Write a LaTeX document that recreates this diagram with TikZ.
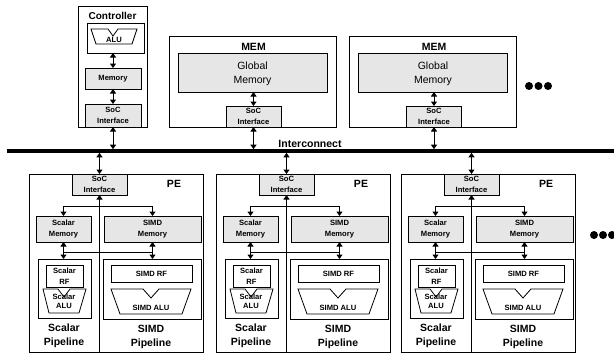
\documentclass[tikz,border=0pt]{standalone}
\usepackage{fontspec}
\setmainfont{Liberation Sans}
\usetikzlibrary{arrows.meta}
\definecolor{boxgray}{HTML}{E6E6E6}
\begin{document}
\begin{tikzpicture}[x=1pt,y=-1pt,
  outerbox/.style={draw, line width=1pt, inner sep=0pt, outer sep=0pt},
  gbox/.style={draw, fill=boxgray, line width=0.8pt, inner sep=0pt, outer sep=0pt, align=center},
  wbox/.style={draw, fill=white, line width=0.8pt, inner sep=0pt, outer sep=0pt, align=center},
  smallfont/.style={font=\fontsize{7.6}{10.5}\selectfont\bfseries},
  tightfont/.style={font=\fontsize{7.6}{8.6}\selectfont\bfseries},
  bigfont/.style={font=\fontsize{10.5}{13.5}\selectfont\bfseries},
  ctrlfont/.style={font=\fontsize{10}{12}\selectfont\bfseries},
  regfont/.style={font=\fontsize{10.5}{13.5}\selectfont},
  lbl/.style={inner sep=0pt, outer sep=0pt, align=center},
  connline/.style={line width=1pt},
  arr/.style={connline, -{Triangle[width=6pt,length=4.5pt]}},
  dblarr/.style={connline, {Triangle[width=6pt,length=4.5pt]}-{Triangle[width=6pt,length=4.5pt]}},
  alu/.style={draw, fill=white, line width=0.8pt, line join=miter},
  dot/.style={circle, fill=black, inner sep=0pt, minimum size=8pt}
]
\useasboundingbox (0,0) rectangle (614,356);

% interconnect
\coordinate (busL) at (7,151);
\coordinate (busR) at (620,151);
\coordinate (busT) at (7,149.2);
\coordinate (busB) at (7,152.8);
\draw[line width=3.6pt] (busL) -- (busR);
\node[bigfont,lbl] (ic) at (310,144) {Interconnect};

% controller
\node[outerbox, minimum width=69pt, minimum height=121pt] (ctrl) at (112.5,66.5) {};
\node[ctrlfont,lbl] (ctrlt) at (112.5,15.5) {Controller};
\node[wbox, minimum width=57pt, minimum height=30pt] (ctrlalubox) at (115.5,38) {};
\draw[alu] (91,29) -- (108,29) -- (113,36) -- (118,29) -- (137,29) -- (132,44) -- (96,44) -- cycle;
\node[smallfont,lbl] (ctrlalut) at (114,39.5) {ALU};
\node[gbox, smallfont, minimum width=56pt, minimum height=21pt] (ctrlmem) at (113,78.5) {Memory};
\node[gbox, smallfont, minimum width=56pt, minimum height=23pt] (ctrlsoc) at (113,115.5) {SoC\\Interface};
\draw[dblarr] (ctrlmem.north) -- (ctrlmem.north |- ctrlalubox.south);
\draw[dblarr] (ctrlmem.south) -- (ctrlsoc.north);
\draw[dblarr] (ctrlsoc.south) -- (ctrlsoc.south |- busT);

% memories
\foreach \j/\X in {1/252.5,2/433}{
  \node[outerbox, minimum width=167pt, minimum height=91pt] (mem\j) at (\X,81.5) {};
  \node[bigfont,lbl] (memt\j) at (\X+1,47) {MEM};
  \node[gbox, minimum width=149pt, minimum height=39pt] (gmem\j) at (\X,72.5) {};
  \node[regfont,lbl] (gmemt\j) at (\X,74) {Global\\Memory};
  \node[gbox, smallfont, minimum width=55pt, minimum height=21pt] (msoc\j) at (\X+1,116.5) {SoC\\Interface};
  \draw[dblarr] (msoc\j.north) -- (msoc\j.north |- gmem\j.south);
  \draw[dblarr] (msoc\j.south) -- (msoc\j.south |- busT);
}

% dots
\node[dot] (td1) at (529,86) {};
\node[dot] (td2) at (538.5,86) {};
\node[dot] (td3) at (548,86) {};
\node[dot] (rd1) at (594,235) {};
\node[dot] (rd2) at (603,235) {};
\node[dot] (rd3) at (612,235) {};

% processing elements
\foreach \i/\L in {1/29,2/216,3/401}{
  \node[outerbox, minimum width=174pt, minimum height=178pt] (pe\i) at (\L+87,263) {};
  \node[bigfont,lbl] (pet\i) at (\L+145,184) {PE};
  \node[gbox,smallfont, minimum width=55pt, minimum height=21pt] (soc\i) at (\L+70.5,184.5) {SoC\\Interface};
  \draw[dblarr] (soc\i.north) -- (soc\i.north |- busB);
  \node[gbox,smallfont,minimum width=55pt,minimum height=26pt] (smem\i) at (\L+34.5,229) {Scalar\\Memory};
  \node[gbox,smallfont,minimum width=97pt,minimum height=26pt] (vmem\i) at (\L+123.5,229) {SIMD\\Memory};
  \coordinate (pebot\i) at (\L+70.5,352);
  \draw[arr] (pebot\i) -- (soc\i.south);
  \coordinate (junc\i) at (\L+70.5,206);
  \draw[arr] (junc\i) -| (smem\i.north);
  \draw[arr] (junc\i) -| (vmem\i.north);
  \node[wbox, minimum width=53pt, minimum height=59pt] (spipe\i) at (\L+35.5,288.5) {};
  \node[wbox, minimum width=98pt, minimum height=60pt] (vpipe\i) at (\L+123,289) {};
  \draw[dblarr] (smem\i.south) -- (smem\i.south |- spipe\i.north);
  \draw[dblarr] (vmem\i.south) -- (vmem\i.south |- vpipe\i.north);
  \coordinate (hl\i) at (\L+34.5,252);
  \coordinate (hr\i) at (\L+123.5,252);
  \draw[connline] (hl\i) -- (hr\i);
  \node[wbox,smallfont,minimum width=37pt,minimum height=22pt] (srf\i) at (\L+35.5,276) {Scalar\\RF};
  \node[wbox,smallfont,minimum width=81pt,minimum height=17pt] (vrf\i) at (\L+122.5,273.5) {SIMD RF};
  \draw[alu] (\L+14,289) -- (\L+29,289) -- (\L+35,297) -- (\L+41,289) -- (\L+57,289) -- (\L+50,313) -- (\L+20,313) -- cycle;
  \node[tightfont,lbl] (salu\i) at (\L+35,301) {Scalar\\ALU};
  \draw[alu] (\L+82,289) -- (\L+114,289) -- (\L+122,298) -- (\L+130,289) -- (\L+162,289) -- (\L+153,314) -- (\L+91,314) -- cycle;
  \node[smallfont,lbl] (valu\i) at (\L+122,307.5) {SIMD ALU};
  \node[bigfont,lbl] (spl\i) at (\L+35,336) {Scalar\\Pipeline};
  \node[bigfont,lbl] (vpl\i) at (\L+122,337) {SIMD\\Pipeline};
}
\end{tikzpicture}
\end{document}
